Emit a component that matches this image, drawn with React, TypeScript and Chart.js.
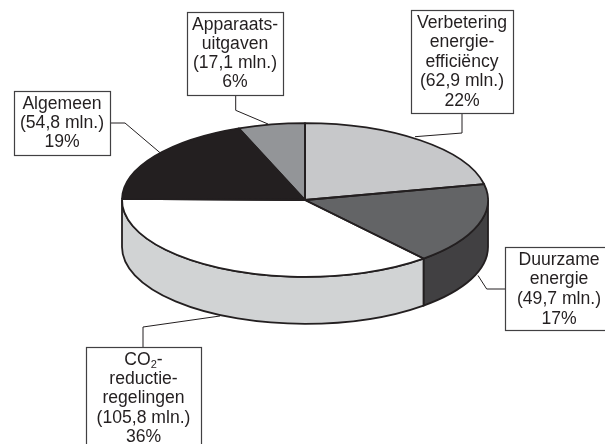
import React, { useEffect, useRef } from "react";
import { Chart, registerables } from "chart.js";

Chart.register(...registerables);

const categories = ["Verbetering energie-efficiëncy", "Duurzame energie", "CO2-reductieregelingen", "Algemeen", "Apparaatsuitgaven"];
const amounts = [62.9, 49.7, 105.8, 54.8, 17.1];
const topColors = ["#c7c8ca", "#636466", "#ffffff", "#231f20", "#939598"];
const wallColors = ["#c7c8ca", "#414042", "#d1d3d4", "#231f20", "#939598"];
const labelLines = [
  ["Verbetering", "energie-", "efficiëncy", "(62,9 mln.)", "22%"],
  ["Duurzame", "energie", "(49,7 mln.)", "17%"],
  ["CO₂-", "reductie-", "regelingen", "(105,8 mln.)", "36%"],
  ["Algemeen", "(54,8 mln.)", "19%"],
  ["Apparaats-", "uitgaven", "(17,1 mln.)", "6%"],
];
const labelBoxes = [
  [411, 10, 513, 113],
  [505, 247, 606, 330],
  [86, 347, 201, 447],
  [14, 91, 110, 155],
  [187, 12, 283, 95],
];
const textCentres = [462, 559, 143.5, 62, 235];
const firstBaselines = [28, 264.5, 365, 109, 30];
const lineSteps = [19.4, 19.8, 19.2, 19, 19];
const leaders = [
  [[462, 113], [462, 133], [415, 136.7]],
  [[505, 289], [486.7, 289], [478, 275.5]],
  [[143, 347], [143, 327], [220, 316]],
  [[111, 123], [125, 123], [160, 152.7]],
  [[235.7, 95], [235.7, 110.3], [268, 124]],
];
const squash = 0.42;
const depth = 47;
const ink = "#231f20";
const FONT = "'Liberation Sans', Arial, sans-serif";

const pie3d = {
  id: "pie3d",
  beforeDatasetsDraw(chart: any) {
    const ctx = chart.ctx;
    const arcs = chart.getDatasetMeta(0).data;
    const { x: cx, y: cy, outerRadius: r } = arcs[0];
    const ry = r * squash;
    ctx.save();
    ctx.lineWidth = 1.8;
    ctx.strokeStyle = ink;
    arcs.forEach((arc: any, i: number) => {
      const a = Math.max(arc.startAngle, 0);
      const b = Math.min(arc.endAngle, Math.PI);
      if (b <= a) return;
      ctx.beginPath();
      ctx.ellipse(cx, cy, r, ry, 0, a, b);
      ctx.ellipse(cx, cy + depth, r, ry, 0, b, a, true);
      ctx.closePath();
      ctx.fillStyle = wallColors[i];
      ctx.fill();
      ctx.stroke();
    });
    ctx.restore();
    ctx.save();
    ctx.translate(cx, cy);
    ctx.scale(1, squash);
    ctx.translate(-cx, -cy);
  },
  afterDatasetsDraw(chart: any) {
    const ctx = chart.ctx;
    ctx.restore();
    const arcs = chart.getDatasetMeta(0).data;
    const { x: cx, y: cy, outerRadius: r } = arcs[0];
    const ry = r * squash;
    ctx.save();
    ctx.lineWidth = 1.8;
    ctx.strokeStyle = ink;
    ctx.lineJoin = "round";
    arcs.forEach((arc: any) => {
      ctx.beginPath();
      ctx.moveTo(cx, cy);
      ctx.ellipse(cx, cy, r, ry, 0, arc.startAngle, arc.endAngle);
      ctx.closePath();
      ctx.stroke();
    });
    ctx.restore();

    ctx.save();
    ctx.strokeStyle = ink;
    ctx.lineWidth = 1;
    leaders.forEach((pts) => {
      ctx.beginPath();
      pts.forEach(([x, y], i) => (i ? ctx.lineTo(x, y) : ctx.moveTo(x, y)));
      ctx.stroke();
    });
    ctx.textBaseline = "alphabetic";
    labelLines.forEach((lines, i) => {
      const [x0, y0, x1, y1] = labelBoxes[i];
      ctx.fillStyle = "#ffffff";
      ctx.fillRect(x0, y0, x1 - x0, y1 - y0);
      ctx.strokeStyle = "#414042";
      ctx.lineWidth = 1.2;
      ctx.strokeRect(x0 + 0.5, y0 + 0.5, x1 - x0, y1 - y0);
      ctx.fillStyle = ink;
      const mid = textCentres[i];
      lines.forEach((line, j) => {
        const y = firstBaselines[i] + j * lineSteps[i];
        ctx.font = `17.6px ${FONT}`;
        if (line.includes("₂")) {
          const [head, tail] = line.split("₂");
          const hw = ctx.measureText(head).width;
          const tw = ctx.measureText(tail).width;
          ctx.font = `11px ${FONT}`;
          const sw = ctx.measureText("2").width;
          let x = mid - (hw + sw + tw) / 2;
          ctx.textAlign = "left";
          ctx.font = `17.6px ${FONT}`;
          ctx.fillText(head, x, y);
          x += hw;
          ctx.font = `11px ${FONT}`;
          ctx.fillText("2", x, y + 3);
          x += sw;
          ctx.font = `17.6px ${FONT}`;
          ctx.fillText(tail, x, y);
        } else {
          ctx.textAlign = "center";
          ctx.fillText(line, mid, y);
        }
      });
    });
    ctx.restore();
  },
};

export default function App() {
  const ref = useRef<HTMLCanvasElement>(null);
  useEffect(() => {
    const chart = new Chart(ref.current!, {
      type: "pie",
      data: {
        labels: categories,
        datasets: [{ data: amounts, backgroundColor: topColors, borderWidth: 0, radius: 183 }],
      },
      options: {
        responsive: false,
        animation: false,
        layout: { padding: { left: 5, right: 0, top: 0, bottom: 44 } },
        plugins: { legend: { display: false }, tooltip: { enabled: false } },
      },
      plugins: [pie3d],
    } as any);
    return () => chart.destroy();
  }, []);
  return (
    <div style={{ position: "fixed", left: 0, top: 0, width: 605, height: 444, background: "#fff" }}>
      <canvas ref={ref} width={605} height={444} style={{ display: "block" }} />
    </div>
  );
}
